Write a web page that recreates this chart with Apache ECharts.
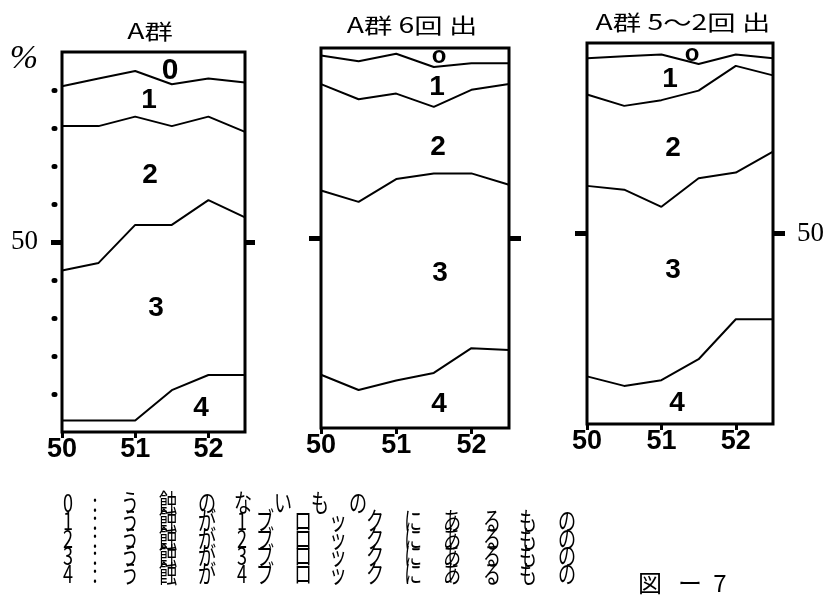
<!DOCTYPE html>
<html>
<head>
<meta charset="utf-8">
<script src="https://cdn.jsdelivr.net/npm/echarts@6/dist/echarts.min.js"></script>
<style>
  html, body { margin: 0; background: #fff; }
  #main { width: 830px; height: 601px; }
</style>
</head>
<body>
<div id="main"></div>
<script>
// survey years (showa), half-year steps
var years = [50, 50.5, 51, 51.5, 52, 52.5];
var yearTicks = [50, 51, 52];
var dotTicks = [10, 20, 30, 40, 60, 70, 80, 90];
var midTick = [50];

var titles = ['A群', 'A群 6回 出', 'A群 5〜2回 出'];

// percentage of each grade (0 = no caries ... 4 = caries in 4 blocks)
var groupA_g0 = [9, 7, 5, 8.5, 7, 8];
var groupA_g1 = [10.5, 12.5, 12, 11, 10, 13];
var groupA_g2 = [38, 36, 28.5, 26, 22, 22.5];
var groupA_g3 = [39.5, 41.5, 51.5, 43.5, 46, 41.5];
var groupA_g4 = [3, 3, 3, 11, 15, 15];

var six_g0 = [2, 3.5, 1.5, 5, 4, 4];
var six_g1 = [7.5, 10, 10.5, 10.5, 7, 5.5];
var six_g2 = [28, 27, 22.5, 17.5, 22, 26.5];
var six_g3 = [48.5, 49.5, 53, 52.5, 46, 43.5];
var six_g4 = [14, 10, 12.5, 14.5, 21, 20.5];

var fiveTwo_g0 = [4, 3.5, 3, 5.5, 3, 4];
var fiveTwo_g1 = [9.5, 13, 12, 7, 3, 4.5];
var fiveTwo_g2 = [24, 22, 28, 23, 28, 20];
var fiveTwo_g3 = [50, 51.5, 45.5, 47.5, 38.5, 44];
var fiveTwo_g4 = [12.5, 10, 11.5, 17, 27.5, 27.5];

var legendRows = [
  '0:う蝕のないもの',
  '1:う蝕が1ブロックにあるもの',
  '2:う蝕が2ブロックにあるもの',
  '3:う蝕が3ブロックにあるもの',
  '4:う蝕が4ブロックにあるもの'
];
var figLabel = '図ー7';

var panels = [
  [groupA_g4, groupA_g3, groupA_g2, groupA_g1, groupA_g0],
  [six_g4, six_g3, six_g2, six_g1, six_g0],
  [fiveTwo_g4, fiveTwo_g3, fiveTwo_g2, fiveTwo_g1, fiveTwo_g0]
];

// layout
var boxes = [
  { left: 62, top: 52, width: 183, height: 380 },
  { left: 321, top: 48, width: 188, height: 380 },
  { left: 587, top: 43, width: 186, height: 381 }
];
var titlePos = [[150, 31], [412, 25], [683, 22]];
// grade labels (text, x, y, size) per panel
var gradeLabels = [
  [['0', 170, 71, 30], ['1', 149, 100, 28], ['2', 150, 175, 28], ['3', 156, 308, 28], ['4', 201, 408, 28]],
  [['o', 439, 56, 24], ['1', 437, 87, 28], ['2', 438, 147, 28], ['3', 440, 273, 28], ['4', 439, 404, 28]],
  [['o', 692, 54, 24], ['1', 670, 79, 28], ['2', 673, 148, 28], ['3', 673, 270, 28], ['4', 677, 403, 28]]
];
var row0Cols = [68, 95, 130, 168, 207, 243, 283, 320, 358];
var rowCols = [68, 95, 130, 168, 207, 242, 265, 303, 338, 375, 413, 452, 492, 528, 567];
var rowY = [503, 521, 539, 556, 574];

var chart = echarts.init(document.getElementById('main'));

var grids = [], xAxes = [], yAxes = [], series = [], graphics = [];

function markerAxis(gi, pos, ticks, len, width, cap, offset, label) {
  return {
    type: 'value', gridIndex: gi, min: 0, max: 100, position: pos, offset: offset || 0,
    axisLine: { show: false },
    splitLine: { show: false },
    axisTick: { show: true, customValues: ticks, length: len, lineStyle: { color: '#000', width: width, cap: cap } },
    axisLabel: label ? {
      show: true, customValues: [50], margin: 24, color: '#000',
      fontFamily: 'Liberation Serif', fontSize: 27
    } : { show: false }
  };
}

boxes.forEach(function (b, i) {
  grids.push({ left: b.left, top: b.top, width: b.width, height: b.height, show: true, borderColor: '#000', borderWidth: 3, backgroundColor: 'transparent' });
  xAxes.push({
    type: 'value', gridIndex: i, min: 50, max: 52.5,
    axisLine: { show: false },
    splitLine: { show: false },
    axisTick: { show: true, customValues: yearTicks, length: 6, lineStyle: { color: '#000', width: 3 } },
    axisLabel: { customValues: yearTicks, margin: 4, color: '#000', fontFamily: 'Liberation Sans', fontWeight: 'bold', fontSize: 27 }
  });
  var mainIdx = yAxes.length;
  yAxes.push({ type: 'value', gridIndex: i, min: 0, max: 100, show: false });
  if (i === 0) {
    yAxes.push(markerAxis(i, 'left', dotTicks, 1, 5, 'round', 7, false));
    yAxes.push(markerAxis(i, 'left', midTick, 11, 5, 'butt', 0, true));
    yAxes.push(markerAxis(i, 'right', midTick, 10, 5, 'butt', 0, false));
  } else {
    yAxes.push(markerAxis(i, 'left', midTick, 12, 5, 'butt', 0, false));
    yAxes.push(markerAxis(i, 'right', midTick, 12, 5, 'butt', 0, i === 2));
  }

  // cumulative boundaries from the bottom grade upward (skip the top one = 100%)
  var layers = panels[i];
  var cum = years.map(function () { return 0; });
  for (var g = 0; g < layers.length - 1; g++) {
    cum = cum.map(function (c, k) { return c + layers[g][k]; });
    series.push({
      type: 'line', xAxisIndex: i, yAxisIndex: mainIdx,
      data: years.map(function (y, k) { return [y, cum[k]]; }),
      symbol: 'none', silent: true,
      lineStyle: { color: '#000', width: 2 }
    });
  }

  graphics.push({
    type: 'text', x: titlePos[i][0], y: titlePos[i][1], scaleX: 1.35,
    style: { text: titles[i], fill: '#000', font: '21px "Noto Sans CJK JP"', textAlign: 'center', textVerticalAlign: 'middle' }
  });
  gradeLabels[i].forEach(function (l) {
    graphics.push({
      type: 'text', x: l[1], y: l[2],
      style: { text: l[0], fill: '#000', font: 'bold ' + l[3] + 'px "Liberation Sans"', textAlign: 'center', textVerticalAlign: 'middle' }
    });
  });
});

graphics.push({
  type: 'text', x: 24, y: 59,
  style: { text: '%', fill: '#000', font: 'italic 34px "Liberation Serif"', textAlign: 'center', textVerticalAlign: 'middle' }
});

legendRows.forEach(function (row, r) {
  var chars = Array.from(row);
  var cols = r === 0 ? row0Cols : rowCols;
  chars.forEach(function (ch, c) {
    graphics.push({
      type: 'text', x: cols[c], y: rowY[r], scaleY: 1.3, scaleX: 0.95,
      style: { text: ch, fill: '#000', font: '19px "Noto Sans CJK JP"', textAlign: 'center', textVerticalAlign: 'middle' }
    });
  });
});

var figCols = [650, 690, 720];
Array.from(figLabel).forEach(function (ch, c) {
  graphics.push({
    type: 'text', x: figCols[c], y: 583,
    style: { text: ch, fill: '#000', font: '24px "Noto Sans CJK JP"', textAlign: 'center', textVerticalAlign: 'middle' }
  });
});

chart.setOption({
  animation: false,
  backgroundColor: '#fff',
  grid: grids,
  xAxis: xAxes,
  yAxis: yAxes,
  series: series,
  graphic: graphics
});
</script>
</body>
</html>
